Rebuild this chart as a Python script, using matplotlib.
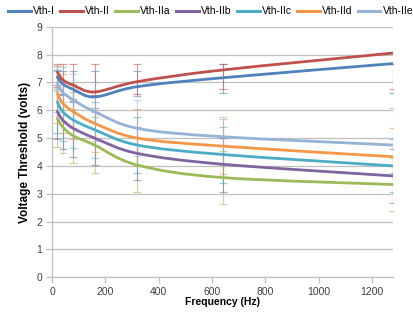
import numpy as np
import matplotlib
matplotlib.use("Agg")
import matplotlib.pyplot as plt
from matplotlib.path import Path
from matplotlib.patches import PathPatch
from matplotlib.lines import Line2D

plt.rcParams['font.family'] = ['Liberation Sans Narrow', 'Liberation Sans', 'DejaVu Sans']

freq = [20, 40, 80, 160, 320, 640, 1280]
series_names = ["Vth-I", "Vth-II", "Vth-IIa", "Vth-IIb", "Vth-IIc", "Vth-IId", "Vth-IIe"]
vth_I = [7.20, 6.95, 6.75, 6.48, 6.85, 7.17, 7.68]
vth_II = [7.38, 7.10, 6.90, 6.66, 7.03, 7.45, 8.06]
vth_IIa = [5.70, 5.40, 5.08, 4.75, 4.03, 3.58, 3.33]
vth_IIb = [5.95, 5.65, 5.35, 5.00, 4.45, 4.06, 3.64]
vth_IIc = [6.30, 5.95, 5.65, 5.30, 4.75, 4.41, 4.00]
vth_IId = [6.60, 6.25, 5.95, 5.53, 5.00, 4.71, 4.33]
vth_IIe = [6.97, 6.65, 6.37, 5.95, 5.35, 5.05, 4.75]

# error bar extents (lower, upper) per series
err_lo_I = [6.75, 6.55, 6.30, 6.10, 6.50, 6.63, 6.63]
err_hi_I = [7.45, 7.40, 7.40, 7.40, 7.40, 7.66, 7.66]
err_lo_II = [6.85, 6.60, 6.40, 6.55, 6.60, 6.75, 6.75]
err_hi_II = [7.65, 7.65, 7.65, 7.65, 7.65, 7.66, 7.66]
err_lo_IIa = [4.69, 4.46, 4.11, 3.75, 3.06, 2.62, 2.37]
err_hi_IIa = [6.70, 6.30, 6.05, 5.75, 5.00, 4.55, 4.30]
err_lo_IIb = [4.95, 4.60, 4.33, 4.03, 3.50, 3.06, 2.66]
err_hi_IIb = [6.90, 6.60, 6.35, 5.95, 5.40, 5.00, 4.60]
err_lo_IIc = [5.20, 4.90, 4.65, 4.30, 3.75, 3.40, 3.05]
err_hi_IIc = [7.40, 7.00, 6.65, 6.30, 5.75, 5.40, 4.95]
err_lo_IId = [5.55, 5.20, 4.95, 4.50, 4.00, 3.70, 3.35]
err_hi_IId = [7.60, 7.30, 6.95, 6.55, 6.05, 5.70, 5.36]
err_lo_IIe = [5.95, 5.60, 5.35, 4.90, 4.35, 4.05, 3.75]
err_hi_IIe = [7.60, 7.55, 7.30, 7.00, 6.37, 5.76, 6.08]

values = [vth_I, vth_II, vth_IIa, vth_IIb, vth_IIc, vth_IId, vth_IIe]
err_lo = [err_lo_I, err_lo_II, err_lo_IIa, err_lo_IIb, err_lo_IIc, err_lo_IId, err_lo_IIe]
err_hi = [err_hi_I, err_hi_II, err_hi_IIa, err_hi_IIb, err_hi_IIc, err_hi_IId, err_hi_IIe]
colors = ["#4F81BD", "#C0504D", "#9BBB59", "#8064A2", "#4BACC6", "#F79646", "#95B3D7"]

x_ticks = [0, 200, 400, 600, 800, 1000, 1200]
y_ticks = [0, 1, 2, 3, 4, 5, 6, 7, 8, 9]


def smooth_path(xs, ys):
    """Catmull-Rom style smoothed path through the points (Bezier segments)."""
    pts = np.column_stack([xs, ys]).astype(float)
    n = len(pts)
    verts = [pts[0]]
    codes = [Path.MOVETO]
    for i in range(n - 1):
        p0 = pts[i - 1] if i > 0 else pts[i]
        p1 = pts[i]
        p2 = pts[i + 1]
        p3 = pts[i + 2] if i + 2 < n else pts[i + 1]
        c1 = p1 + (p2 - p0) / 6.0
        c2 = p2 - (p3 - p1) / 6.0
        verts += [c1, c2, p2]
        codes += [Path.CURVE4] * 3
    return Path(verts, codes)


fig = plt.figure(figsize=(4.13, 3.2), dpi=100)
ax = fig.add_axes([0.126, 0.134, 0.826, 0.782])

# error bars
cap = 6
for vals, lo, hi, c in zip(values, err_lo, err_hi, colors):
    ax.vlines(freq, lo, hi, colors=c, lw=0.8, alpha=0.55, zorder=2)
    ax.plot(freq, lo, ls='none', marker='_', ms=cap, mew=0.9, color=c, alpha=0.55, zorder=2)
    ax.plot(freq, hi, ls='none', marker='_', ms=cap, mew=0.9, color=c, alpha=0.55, zorder=2)

# smoothed series lines
for vals, c in zip(values, colors):
    patch = PathPatch(smooth_path(freq, vals), facecolor='none', edgecolor=c,
                      lw=2.0, capstyle='round', joinstyle='round', zorder=3)
    ax.add_patch(patch)

ax.set_xlim(0, 1280)
ax.set_ylim(0, 9)
ax.set_xticks(x_ticks)
ax.set_yticks(y_ticks)
ax.yaxis.grid(True, color='#BFBFBF', lw=0.9)
ax.set_axisbelow(True)
for s in ['top', 'right']:
    ax.spines[s].set_visible(False)
for s in ['left', 'bottom']:
    ax.spines[s].set_color('#BFBFBF')
    ax.spines[s].set_linewidth(0.9)
ax.tick_params(axis='both', colors='#BFBFBF', length=4, width=0.9, labelsize=7.5,
               labelcolor='#404040', pad=3)
ax.set_xlabel("Frequency (Hz)", fontsize=7.5, fontweight='bold', labelpad=0, color='black')
ax.set_ylabel("Voltage Threshold (volts)", fontsize=8.5, fontweight='bold', labelpad=4, color='black')

handles = [Line2D([0], [0], color=c, lw=2.2) for c in colors]
fig.legend(handles, series_names, loc='upper center', bbox_to_anchor=(0.51, 1.0),
           ncol=7, frameon=False, fontsize=7.5, handlelength=2.2, handletextpad=0.2,
           columnspacing=0.5, borderaxespad=0.2)

fig.savefig("out.png", dpi=100)
